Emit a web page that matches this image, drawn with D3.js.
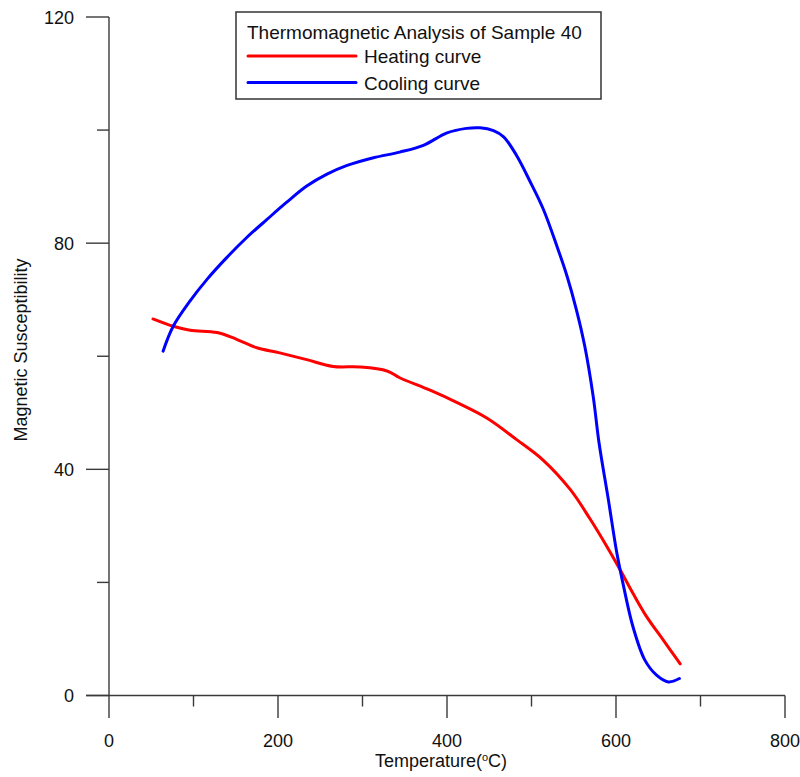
<!DOCTYPE html>
<html>
<head>
<meta charset="utf-8">
<script src="https://cdn.jsdelivr.net/npm/d3@7"></script>
<style>
  html, body { margin: 0; padding: 0; background: #fff; }
  svg { display: block; font-family: Arial, "Liberation Sans", sans-serif; }
</style>
</head>
<body>
<svg id="chart" width="800" height="777"></svg>
<script>
// ---- Data ----
const heatingT = [52, 76, 96, 128, 151, 175, 202, 234, 265, 297, 329, 344, 380, 412, 448, 482, 514, 546, 569, 589, 605, 620, 636, 656, 676];
const heatingV = [66.6, 65.3, 64.6, 64.2, 63.0, 61.5, 60.6, 59.4, 58.2, 58.1, 57.4, 56.2, 54.0, 51.8, 49.0, 45.3, 41.6, 36.4, 31.3, 26.4, 22.2, 18.1, 14.0, 9.8, 5.6];

const coolingT = [64, 76, 96, 116, 139, 163, 187, 210, 234, 258, 281, 313, 344, 372, 400, 423, 439, 455, 467, 482, 498, 514, 530, 542, 553, 563, 573, 580, 591, 601, 609, 620, 634, 648, 662, 675];
const coolingV = [60.9, 65.3, 69.8, 73.6, 77.4, 81.0, 84.2, 87.2, 90.1, 92.2, 93.7, 95.1, 96.1, 97.3, 99.5, 100.3, 100.4, 99.9, 98.8, 95.6, 91.0, 86.0, 79.5, 74.2, 68.3, 61.8, 52.9, 44.6, 34.6, 25.2, 19.3, 12.2, 6.3, 3.6, 2.4, 3.0];

const xMajorTicks = [0, 200, 400, 600, 800];
const xMinorTicks = [100, 300, 500, 700];
const yMajorTicks = [0, 40, 80, 120];
const yMinorTicks = [20, 60, 100];

const legendTitle = "Thermomagnetic Analysis of Sample 40";
const seriesNames = ["Heating curve", "Cooling curve"];
const seriesColors = ["#ff0000", "#0000ff"];

// ---- Layout ----
const svg = d3.select("#chart");
const x = d3.scaleLinear().domain([0, 800]).range([109, 785]);
const y = d3.scaleLinear().domain([0, 120]).range([695.5, 17]);
const axisColor = "#3a3a3a";

// X axis line
svg.append("line").attr("x1", 86).attr("x2", x(800)).attr("y1", y(0)).attr("y2", y(0))
  .attr("stroke", axisColor).attr("stroke-width", 1.4);
// Y axis line
svg.append("line").attr("x1", x(0)).attr("x2", x(0)).attr("y1", y(120)).attr("y2", y(0))
  .attr("stroke", axisColor).attr("stroke-width", 1.4);

// X ticks
svg.selectAll(".xmaj").data(xMajorTicks).enter().append("line")
  .attr("x1", d => x(d)).attr("x2", d => x(d)).attr("y1", y(0)).attr("y2", y(0) + 22.5)
  .attr("stroke", axisColor).attr("stroke-width", 1.4);
svg.selectAll(".xmin").data(xMinorTicks).enter().append("line")
  .attr("x1", d => x(d)).attr("x2", d => x(d)).attr("y1", y(0)).attr("y2", y(0) + 11)
  .attr("stroke", axisColor).attr("stroke-width", 1.4);
svg.selectAll(".xlab").data(xMajorTicks).enter().append("text")
  .attr("x", d => x(d)).attr("y", 747).attr("text-anchor", "middle")
  .attr("font-size", 18).attr("fill", "#111").text(d => d);

// Y ticks
svg.selectAll(".ymaj").data(yMajorTicks).enter().append("line")
  .attr("x1", 86).attr("x2", x(0)).attr("y1", d => y(d)).attr("y2", d => y(d))
  .attr("stroke", axisColor).attr("stroke-width", 1.4);
svg.selectAll(".ymin").data(yMinorTicks).enter().append("line")
  .attr("x1", 97).attr("x2", x(0)).attr("y1", d => y(d)).attr("y2", d => y(d))
  .attr("stroke", axisColor).attr("stroke-width", 1.4);
svg.selectAll(".ylab").data(yMajorTicks).enter().append("text")
  .attr("x", 74).attr("y", d => y(d) + 6.5).attr("text-anchor", "end")
  .attr("font-size", 18).attr("fill", "#111").text(d => d);

// Axis titles
const xt = svg.append("text").attr("x", 441).attr("y", 767).attr("text-anchor", "middle")
  .attr("font-size", 18).attr("fill", "#111");
xt.append("tspan").text("Temperature(");
xt.append("tspan").attr("font-size", 11).attr("dy", -6).text("o");
xt.append("tspan").attr("dy", 6).text("C)");

svg.append("text").attr("transform", "translate(27,350) rotate(-90)")
  .attr("text-anchor", "middle").attr("font-size", 18).attr("fill", "#111")
  .text("Magnetic Susceptibility");

// Curves
const line = d3.line().x(d => x(d[0])).y(d => y(d[1])).curve(d3.curveCatmullRom.alpha(0.5));
const heating = heatingT.map((t, i) => [t, heatingV[i]]);
const cooling = coolingT.map((t, i) => [t, coolingV[i]]);

svg.append("path").datum(heating).attr("d", line).attr("fill", "none")
  .attr("stroke", seriesColors[0]).attr("stroke-width", 3).attr("stroke-linejoin", "round").attr("stroke-linecap", "round");
svg.append("path").datum(cooling).attr("d", line).attr("fill", "none")
  .attr("stroke", seriesColors[1]).attr("stroke-width", 3).attr("stroke-linejoin", "round").attr("stroke-linecap", "round");

// Legend
const lg = svg.append("g");
lg.append("rect").attr("x", 236).attr("y", 12).attr("width", 365).attr("height", 87)
  .attr("fill", "#fff").attr("stroke", "#333").attr("stroke-width", 1.5);
lg.append("text").attr("x", 247).attr("y", 38.5).attr("font-size", 19).attr("fill", "#111").text(legendTitle);
const legRows = [56, 82.5];
seriesNames.forEach((name, i) => {
  lg.append("line").attr("x1", 248).attr("x2", 356).attr("y1", legRows[i]).attr("y2", legRows[i])
    .attr("stroke", seriesColors[i]).attr("stroke-width", 3).attr("stroke-linecap", "round");
  lg.append("text").attr("x", 364).attr("y", legRows[i] + 7).attr("font-size", 19).attr("fill", "#111").text(name);
});
</script>
</body>
</html>
